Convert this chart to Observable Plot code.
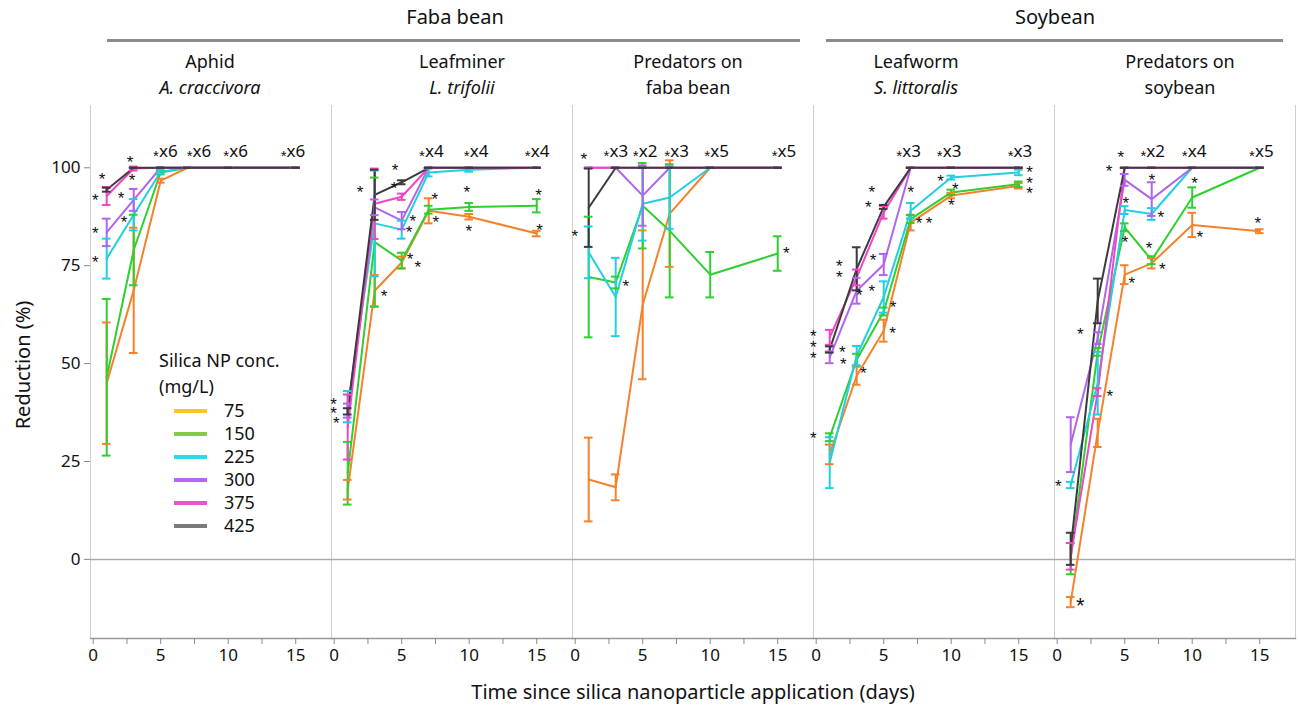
<!DOCTYPE html>
<html><head><meta charset="utf-8">
<script src="https://cdn.jsdelivr.net/npm/d3@7"></script>
<script src="https://cdn.jsdelivr.net/npm/@observablehq/plot@0.6"></script>
<style>
body{margin:0;background:#fff;font-family:"Noto Sans",sans-serif;color:#111;}
#wrap{position:relative;width:1300px;height:707px;overflow:hidden;}
#header{position:relative;width:1300px;height:100px;}
.grp{position:absolute;font-size:20px;transform:translateX(-50%);top:3px;white-space:nowrap;}
.grpline{position:absolute;height:3px;background:#8c8c8c;top:39px;}
.fl{position:absolute;font-size:18px;transform:translateX(-50%);text-align:center;line-height:26px;top:48px;white-space:nowrap;}
.fl i{font-style:italic;}
#legend{position:absolute;left:159px;top:347px;font-size:18px;line-height:26px;}
#legend .row{height:23px;line-height:23px;display:flex;align-items:center;}
#legend .sw{display:inline-block;width:33px;height:4px;margin-left:15px;margin-right:17px;}
#caption{position:absolute;left:0;width:1300px;top:678px;text-align:center;font-size:20px;line-height:28px;padding-left:86px;box-sizing:border-box;}
#ylabel{position:absolute;left:22px;top:365px;font-size:20px;white-space:nowrap;transform:translate(-50%,-50%) rotate(-90deg);}
</style>
</head><body>
<div id="wrap">
  <div id="header"></div>
  <div id="chart"></div>
  <div id="legend"></div>
  <div id="ylabel">Reduction (%)</div>
  <div id="caption">Time since silica nanoparticle application (days)</div>
</div>
<script>
// ---------- data ----------
const panels = ["aphid", "leafminer", "predFaba", "leafworm", "predSoy"];
const panelLine1 = ["Aphid", "Leafminer", "Predators on", "Leafworm", "Predators on"];
const panelLine2 = ["A. craccivora", "L. trifolii", "faba bean", "S. littoralis", "soybean"];
const panelLine2Italic = [true, true, false, true, false];
const groups = ["Faba bean", "Soybean"];
const days = [1, 3, 5, 7, 10, 15];
const concs = ["75", "150", "225", "300", "375", "425"];
const lineColors = ["#F5822A", "#2FCF2F", "#22CFE0", "#B164F0", "#F046C4", "#3C3A3E"];
const legendColors = ["#FFC22E", "#86CB47", "#2ED6F0", "#B466F2", "#F24FCB", "#7A7A7A"];
const yTicks = [0, 25, 50, 75, 100];
const xTicks = [0, 2.5, 5, 7.5, 10, 12.5, 15];

// rows = concentrations (75,150,225,300,375,425), columns = days
const aphidMean = [
  [45, 68.7, 96.7, 100, 100, 100],
  [46.5, 79, 98.8, 100, 100, 100],
  [76.8, 88, 99, 100, 100, 100],
  [83.5, 91.8, 100, 100, 100, 100],
  [92.8, 99.8, 100, 100, 100, 100],
  [94.4, 100, 100, 100, 100, 100]];
const aphidErr = [
  [15.5, 16, 0.5, 0, 0, 0],
  [20, 9, 0.5, 0, 0, 0],
  [5.1, 4, 0.5, 0, 0, 0],
  [3.5, 2.8, 0, 0, 0, 0],
  [2.3, 0.5, 0, 0, 0, 0],
  [0.5, 0, 0, 0, 0, 0]];
const leafminerMean = [
  [17.8, 68.6, 75.8, 89, 87.5, 83.2],
  [22, 81, 76.3, 89.3, 90, 90.3],
  [39, 85.8, 84.2, 98.8, 99.5, 100],
  [38, 89.9, 86.5, 100, 100, 100],
  [33.8, 90.8, 92.6, 100, 100, 100],
  [37.8, 93.1, 96.3, 100, 100, 100]];
const leafminerErr = [
  [2.5, 4, 1.5, 3.2, 0.7, 0.7],
  [8, 16.5, 2, 1, 1, 1.7],
  [4, 13.5, 2.3, 1, 0.5, 0],
  [1.8, 2, 2.2, 0, 0, 0],
  [8.3, 9, 0.8, 0, 0, 0],
  [0.8, 6.4, 0.5, 0, 0, 0]];
const predFabaMean = [
  [20.4, 18.4, 65, 88.3, 100, 100],
  [72.1, 70.7, 90.3, 83.9, 72.7, 78.1],
  [78.4, 67, 90.8, 92.4, 100, 100],
  [100, 100, 92.9, 100, 100, 100],
  [100, 100, 100, 100, 100, 100],
  [89.8, 100, 100, 100, 100, 100]];
const predFabaErr = [
  [10.7, 3.3, 19, 13.6, 0, 0],
  [15.4, 1.5, 10.9, 17, 5.8, 4.4],
  [6.6, 10, 9.4, 8, 0, 0],
  [0, 0, 7.7, 0, 0, 0],
  [0, 0, 0, 0, 0, 0],
  [10, 0, 0, 0, 0, 0]];
const leafwormMean = [
  [26.8, 46.9, 58.4, 86, 92.9, 95.4],
  [31.2, 51, 63.3, 86.9, 93.7, 95.8],
  [24.7, 52, 67, 89, 97.5, 98.8],
  [51.6, 68.6, 75.3, 100, 100, 100],
  [56.7, 72, 88.6, 100, 100, 100],
  [53.6, 74.2, 90, 100, 100, 100]];
const leafwormErr = [
  [2.5, 2.3, 2.8, 2, 0.7, 0.7],
  [1, 1.5, 1, 1, 0.7, 0.7],
  [6.5, 2.5, 4, 2, 0.5, 0.7],
  [1.5, 3.3, 2.7, 0, 0, 0],
  [1.9, 2, 1.6, 0, 0, 0],
  [0.8, 5.5, 0.5, 0, 0, 0]];
const predSoyMean = [
  [-10.9, 32.3, 72.7, 75.6, 85.4, 83.8],
  [0.2, 53, 84.8, 76.4, 92.4, 100],
  [19, 45, 89.2, 88.2, 100, 100],
  [29.3, 56.5, 96.9, 92, 100, 100],
  [0.8, 42.7, 100, 100, 100, 100],
  [2.7, 66, 100, 100, 100, 100]];
const predSoyErr = [
  [1.3, 3.6, 2.4, 1.3, 3.1, 0.5],
  [4, 1, 1, 1, 2.6, 0],
  [0.8, 8, 1, 1.5, 0, 0],
  [7, 1.5, 1.5, 4.3, 0, 0],
  [3.4, 1, 0, 0, 0, 0],
  [4.1, 5.7, 0, 0, 0, 0]];

// significance asterisks: [day, value] in each panel
const aphidStars = [[0.66, 98], [0.15, 92.6], [2.73, 102.3], [2.88, 97.7], [2.07, 93.1], [0.15, 84.2], [2.29, 87], [0.15, 76.8]];
const leafminerStars = [[1.92, 94.6], [4.5, 100.3], [4.43, 95.7], [5.83, 87.2], [5.54, 84.4], [5.61, 77.6], [6.2, 75.5], [3.69, 68.1],
  [7.46, 92.9], [7.53, 87], [9.82, 94.6], [9.97, 84.7], [15.14, 93.9], [15.21, 84.9], [-0.05, 40.6], [-0.05, 38.2], [0.15, 35.8]];
const predFabaStars = [[0.64, 103], [-0.02, 83.5], [3.74, 70.7], [15.63, 79.2]];
const leafwormStars = [[4.11, 94.6], [3.86, 90.9], [1.71, 75.8], [1.71, 73.1], [4.22, 77.3], [4.11, 69.5], [3.19, 68.4], [5.7, 65.4],
  [5.66, 58.6], [7.01, 94.8], [7.62, 86.7], [8.36, 86.9], [9.22, 97.5], [10.31, 95.4], [10.01, 91.3], [15.8, 99.7], [15.8, 97.1],
  [15.8, 94.4], [-0.21, 58], [-0.21, 55.2], [-0.21, 52.4], [1.93, 53.8], [2.01, 50.8], [3.49, 48.4], [-0.21, 31.8]];
const predSoyStars = [[4.71, 103.6], [3.85, 100.1], [5.08, 91.8], [5.03, 81.8], [6.8, 80.3], [7.78, 75], [5.52, 71.4], [7, 97.7],
  [7.67, 88.3], [10.18, 97.1], [10.57, 83.3], [14.85, 86.7], [1.71, 58.4], [3.9, 42.7], [0.08, 19.5]];
const predSoyBigStars = [[1.71, -10.5]];

// "*xN" labels above the 100% line: [day, text]
const aphidCounts = [[4.65, "x6"], [7.14, "x6"], [9.85, "x6"], [14.1, "x6"]];
const leafminerCounts = [[6.5, "x4"], [9.82, "x4"], [14.33, "x4"]];
const predFabaCounts = [[2.32, "x3"], [4.48, "x2"], [6.82, "x3"], [9.78, "x5"], [14.77, "x5"]];
const leafwormCounts = [[6.15, "x3"], [9.15, "x3"], [14.4, "x3"]];
const predSoyCounts = [[6.38, "x2"], [9.44, "x4"], [14.43, "x5"]];
const countLevel = 104.2;

// ---------- build tables ----------
const means = [aphidMean, leafminerMean, predFabaMean, leafwormMean, predSoyMean];
const errs = [aphidErr, leafminerErr, predFabaErr, leafwormErr, predSoyErr];
const starSets = [aphidStars, leafminerStars, predFabaStars, leafwormStars, predSoyStars];
const countSets = [aphidCounts, leafminerCounts, predFabaCounts, leafwormCounts, predSoyCounts];

const rows = [];
concs.forEach((c, ci) => {
  panels.forEach((p, pi) => {
    days.forEach((d, di) => {
      rows.push({panel: p, conc: c, day: d, v: means[pi][ci][di], e: errs[pi][ci][di]});
    });
  });
});
const caps = rows.flatMap(r => [{...r, y: r.v + r.e}, {...r, y: r.v - r.e}]);
const stars = panels.flatMap((p, pi) => starSets[pi].map(([x, y]) => ({panel: p, x, y})));
const bigStars = predSoyBigStars.map(([x, y]) => ({panel: "predSoy", x, y}));
const counts = panels.flatMap((p, pi) => countSets[pi].map(([x, t]) => ({panel: p, x, y: countLevel, t})));

const capHalf = 0.32;
const starFont = "'Liberation Sans', Arial, sans-serif";

const chart = Plot.plot({
  width: 1300,
  height: 580,
  marginTop: 5,
  marginBottom: 42,
  marginLeft: 88,
  marginRight: 3,
  style: {fontFamily: "'Noto Sans', sans-serif", color: "#111", background: "#fff"},
  fx: {domain: panels, padding: 0, axis: null},
  x: {domain: [-0.2, 17.65]},
  y: {domain: [-20.2, 115.9]},
  color: {domain: concs, range: lineColors},
  marks: [
    Plot.frame({anchor: "left", stroke: "#cfcfcf"}),
    Plot.frame({anchor: "right", stroke: "#cfcfcf"}),
    Plot.ruleY([0], {stroke: "#aaaaaa", strokeWidth: 1.5}),
    Plot.frame({anchor: "bottom", stroke: "#999", strokeWidth: 1.5}),
    Plot.axisX({ticks: xTicks, tickFormat: d => (d % 5 === 0 ? d : ""), tickSize: 6, tickPadding: 4, label: null, fontSize: 17, stroke: "#888"}),
    Plot.axisY({ticks: yTicks, tickSize: 6, tickPadding: 4, label: null, fontSize: 17, stroke: "#888"}),
    Plot.line(rows, {fx: "panel", x: "day", y: "v", z: "conc", stroke: "conc", strokeWidth: 2}),
    Plot.ruleX(rows, {fx: "panel", x: "day", y1: d => d.v - d.e, y2: d => d.v + d.e, stroke: "conc", strokeWidth: 2}),
    Plot.ruleY(caps, {fx: "panel", y: "y", x1: d => d.day - capHalf, x2: d => d.day + capHalf, stroke: "conc", strokeWidth: 2}),
    Plot.text(stars, {fx: "panel", x: "x", y: "y", text: () => "*", fontSize: 17, fontFamily: starFont, dy: 4, fill: "#111"}),
    Plot.text(bigStars, {fx: "panel", x: "x", y: "y", text: () => "*", fontSize: 22, fontFamily: starFont, dy: 5, fill: "#111"}),
    Plot.text(counts, {fx: "panel", x: "x", y: "y", text: () => "*", fontSize: 15, fontFamily: starFont, dy: 5, fill: "#111"}),
    Plot.text(counts, {fx: "panel", x: "x", y: "y", text: "t", fontSize: 17, textAnchor: "start", dx: 3, fill: "#111"})
  ]
});
document.getElementById("chart").appendChild(chart);

// ---------- header ----------
const header = document.getElementById("header");
const labelCenters = [210, 462, 688, 916, 1180];
panels.forEach((p, i) => {
  const div = document.createElement("div");
  div.className = "fl";
  div.style.left = labelCenters[i] + "px";
  div.innerHTML = `${panelLine1[i]}<br>${panelLine2Italic[i] ? "<i>" + panelLine2[i] + "</i>" : panelLine2[i]}`;
  header.appendChild(div);
});
const groupSpans = [[107, 800, 455], [826, 1283, 1055]];
groups.forEach((g, i) => {
  const [a, b, c] = groupSpans[i];
  const t = document.createElement("div");
  t.className = "grp"; t.style.left = c + "px"; t.textContent = g;
  header.appendChild(t);
  const l = document.createElement("div");
  l.className = "grpline"; l.style.left = a + "px"; l.style.width = (b - a) + "px";
  header.appendChild(l);
});

// ---------- legend ----------
const legend = document.getElementById("legend");
legend.innerHTML = `<div>Silica NP conc.</div><div>(mg/L)</div>` +
  concs.map((c, i) => `<div class="row"><span class="sw" style="background:${legendColors[i]}"></span><span>${c}</span></div>`).join("");
</script>
</body></html>
